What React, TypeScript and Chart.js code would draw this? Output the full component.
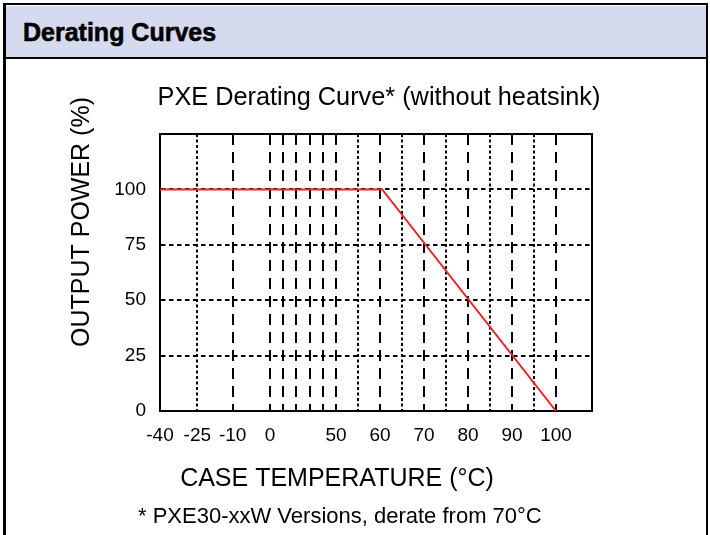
import React, { useEffect, useRef } from 'react';
import { Chart, registerables, LinearScale } from 'chart.js';

// ---- texts ----
const HEADER_TEXT = 'Derating Curves';
const CHART_TITLE = 'PXE Derating Curve* (without heatsink)';
const Y_TITLE = 'OUTPUT POWER (%)';
const X_TITLE = 'CASE TEMPERATURE (°C)';
const FOOTNOTE = '* PXE30-xxW Versions, derate from 70°C';

// ---- data: derating curve ----
const curveTemps = [-40, 60.5, 100];
const curvePower = [100, 100, 0];

// ---- axis ticks ----
const xLabelTemps = [-40, -25, -10, 0, 50, 60, 70, 80, 90, 100];
const xGridTemps = [-40, -25, -10, 0, 10, 20, 30, 40, 50, 55, 60, 65, 70, 75, 80, 85, 90, 95, 100];
const xDottedTemps = [-25, 55, 65, 75, 85, 95];
const yTickValues = [0, 25, 50, 75, 100];

// ---- broken (piecewise) x scale configuration ----
const axisAnchors = [-40, -25, -10, 0, 50, 100, 108];
const anchorFractions = [0, 0.0863, 0.1683, 0.2546, 0.4074, 0.9167, 1];

function toFraction(v: number): number {
  const a = axisAnchors;
  const f = anchorFractions;
  let i = 0;
  while (i < a.length - 2 && v > a[i + 1]) i++;
  return f[i] + ((v - a[i]) / (a[i + 1] - a[i])) * (f[i + 1] - f[i]);
}
function fromFraction(p: number): number {
  const a = axisAnchors;
  const f = anchorFractions;
  let i = 0;
  while (i < f.length - 2 && p > f[i + 1]) i++;
  return a[i] + ((p - f[i]) / (f[i + 1] - f[i])) * (a[i + 1] - a[i]);
}

class BrokenScale extends LinearScale {
  static id = 'broken';
  static defaults = LinearScale.defaults;
  getPixelForValue(value: any): number {
    if (value === null || value === undefined || isNaN(value)) return NaN;
    return this.getPixelForDecimal(toFraction(+value));
  }
  getValueForPixel(pixel: number): number {
    return fromFraction(this.getDecimalForPixel(pixel));
  }
}

Chart.register(...registerables, BrokenScale as any);

const FONT = '"Liberation Sans", Arial, Helvetica, sans-serif';

const frameBox = {
  id: 'frameBox',
  beforeDatasetsDraw(chart: any) {
    const { ctx, chartArea: a } = chart;
    ctx.save();
    ctx.strokeStyle = '#000';
    ctx.lineWidth = 2;
    ctx.beginPath();
    ctx.moveTo(a.left - 1, a.top);
    ctx.lineTo(a.right, a.top);
    ctx.lineTo(a.right, a.bottom + 1);
    ctx.stroke();
    ctx.restore();
  },
};

const extraText = {
  id: 'extraText',
  afterDraw(chart: any) {
    const { ctx, chartArea: a } = chart;
    ctx.save();
    ctx.fillStyle = '#000';
    ctx.textBaseline = 'middle';
    ctx.textAlign = 'center';
    // chart title
    ctx.font = `25.3px ${FONT}`;
    ctx.fillText(CHART_TITLE, a.left + 219, a.top - 36);
    // y axis title
    ctx.font = `25px ${FONT}`;
    ctx.save();
    ctx.translate(a.left - 78, a.top + 88);
    ctx.rotate(-Math.PI / 2);
    ctx.fillText(Y_TITLE, 0, 0);
    ctx.restore();
    // x axis title
    ctx.fillText(X_TITLE, a.left + 177, a.bottom + 68);
    // footnote
    ctx.font = `22px ${FONT}`;
    ctx.textAlign = 'left';
    ctx.fillText(FOOTNOTE, a.left - 22, a.bottom + 106);
    ctx.restore();
  },
};

export default function App() {
  const canvasRef = useRef<HTMLCanvasElement | null>(null);

  useEffect(() => {
    if (!canvasRef.current) return;
    Chart.defaults.font.family = FONT;
    Chart.defaults.color = '#000';
    const chart = new Chart(canvasRef.current, {
      type: 'line',
      data: {
        datasets: [
          {
            label: 'Derating',
            data: curveTemps.map((t, i) => ({ x: t, y: curvePower[i] })),
            borderColor: '#e8262b',
            borderWidth: 2,
            pointRadius: 0,
            fill: false,
            tension: 0,
          },
        ],
      },
      options: {
        animation: false,
        responsive: false,
        devicePixelRatio: 1,
        layout: { padding: { left: 100, right: 118, top: 134, bottom: 0 } },
        plugins: {
          legend: { display: false },
          tooltip: { enabled: false },
          title: { display: false },
        },
        scales: {
          x: {
            type: 'broken' as any,
            min: -40,
            max: 108,
            afterBuildTicks: (scale: any) => {
              scale.ticks = xGridTemps.map((v) => ({ value: v }));
            },
            afterFit: (scale: any) => {
              scale.height = 124;
            },
            ticks: {
              autoSkip: false,
              maxRotation: 0,
              minRotation: 0,
              padding: 13,
              color: '#000',
              font: { size: 19, family: FONT },
              callback: (value: any) => (xLabelTemps.includes(+value) ? String(value) : ''),
            },
            grid: {
              drawTicks: false,
              lineWidth: 2,
              color: (ctx: any) => (ctx.tick && ctx.tick.value === -40 ? 'rgba(0,0,0,0)' : '#000'),
            },
            border: {
              display: true,
              color: '#000',
              width: 2,
              dash: (ctx: any) => {
                const v = ctx.tick ? ctx.tick.value : undefined;
                if (v === undefined) return [];
                return xDottedTemps.includes(v) ? [3, 2.5] : [11, 7];
              },
            } as any,
          },
          y: {
            type: 'linear',
            min: 0,
            max: 125,
            afterBuildTicks: (scale: any) => {
              scale.ticks = yTickValues.map((v) => ({ value: v }));
            },
            afterFit: (scale: any) => {
              scale.width = 60;
            },
            ticks: {
              padding: 14,
              color: '#000',
              font: { size: 19, family: FONT },
              callback: (value: any) => String(value),
            },
            grid: {
              drawTicks: false,
              lineWidth: 2,
              color: (ctx: any) => (ctx.tick && ctx.tick.value === 0 ? 'rgba(0,0,0,0)' : '#000'),
            },
            border: {
              display: true,
              color: '#000',
              width: 2,
              dash: (ctx: any) => (ctx.tick ? [4.5, 3.5] : []),
            } as any,
          },
        },
      },
      plugins: [frameBox, extraText],
    } as any);
    return () => chart.destroy();
  }, []);

  return (
    <div
      style={{
        position: 'absolute',
        left: 0,
        top: 0,
        width: 710,
        height: 535,
        background: '#fff',
        overflow: 'hidden',
      }}
    >
      <canvas
        ref={canvasRef}
        width={710}
        height={535}
        style={{ position: 'absolute', left: 0, top: 0, width: 710, height: 535 }}
      />
      <div
        style={{
          position: 'absolute',
          left: 3,
          top: 3,
          width: 705,
          height: 620,
          boxSizing: 'border-box',
          borderLeft: '3px solid #000',
          borderRight: '2px solid #000',
          borderTop: '2.5px solid #000',
          pointerEvents: 'none',
        }}
      />
      <div
        style={{
          position: 'absolute',
          left: 6,
          top: 5.5,
          width: 700,
          height: 51.5,
          background: '#d5daee',
          borderBottom: '2.5px solid #000',
        }}
      >
        <span
          style={{
            position: 'absolute',
            left: 17,
            top: 14,
            fontFamily: FONT,
            fontWeight: 'bold',
            fontSize: 25,
            lineHeight: '25px',
            color: '#000',
            whiteSpace: 'nowrap',
            WebkitTextStroke: '0.6px #000',
          }}
        >
          {HEADER_TEXT}
        </span>
      </div>
    </div>
  );
}
